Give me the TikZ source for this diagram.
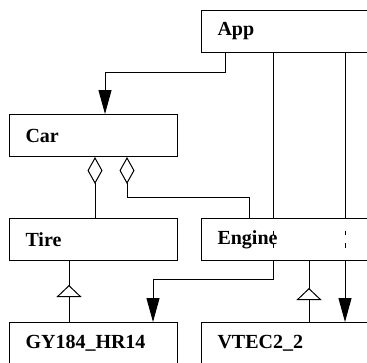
\documentclass[tikz,border=0pt]{standalone}
\usepackage{fontspec}
\setmainfont{Liberation Serif}
\usetikzlibrary{arrows.meta,decorations.markings}
\begin{document}
\begin{tikzpicture}[x=1pt,y=-1pt,line width=1pt,
  cls/.style={draw, fill=white, rectangle, anchor=north west,
    minimum height=42pt, inner xsep=16pt, inner ysep=0pt,
    text width=#1, align=left,
    font=\fontsize{20}{22}\selectfont\bfseries},
  lbox/.style={cls=136pt},
  rbox/.style={cls=158pt},
  arr/.style={-{Triangle[length=24pt,width=13pt]}},
  agg/.style={{Diamond[fill=white,length=27pt,width=15pt]}-},
  inh/.style={postaction={decorate}, decoration={markings,
    mark=at position #1 with {\arrow{Triangle[fill=white,length=12pt,width=25pt]}}}},
  dsh/.style={dash pattern=on 4.5pt off 8pt}]
\useasboundingbox (0,0) rectangle (367,362);
\clip (0,0) rectangle (367,362);
\node[rbox] (app) at (201,10) {App};
\node[lbox] (car) at (9,114) {Car};
\node[lbox] (tire) at (9,218) {Tire};
\node[rbox] (engine) at (201,218) {Engine};
\node[lbox] (gy) at (9,322) {GY184\_HR14};
\node[rbox] (vtec) at (201,322) {VTEC2\_2};
% App -> Car
\draw[arr] (225,0 |- app.south) -- (225,72) -| (105,0 |- car.north);
% App -> GY184 through Engine
\draw (273,0 |- app.south) -- (273,0 |- engine.north);
\draw[dsh] (273,230.5) -- (273,249);
\draw[arr] (273,0 |- engine.south) -- (273,279) -| (153,0 |- gy.north);
% App -> VTEC through Engine
\draw (345,0 |- app.south) -- (345,0 |- engine.north);
\draw[dsh] (345,230.5) -- (345,249);
\draw[arr] (345,0 |- engine.south) -- (345,0 |- vtec.north);
% aggregations
\draw[agg] (95,0 |- car.south) -- (95,0 |- tire.north);
\draw[agg] (127,0 |- car.south) -- (127,197) -| (249,0 |- engine.north);
% inheritance
\draw[inh=37pt] (69,0 |- gy.north) -- (69,0 |- tire.south);
\draw[inh=34pt] (309,0 |- vtec.north) -- (309,0 |- engine.south);
\end{tikzpicture}
\end{document}
